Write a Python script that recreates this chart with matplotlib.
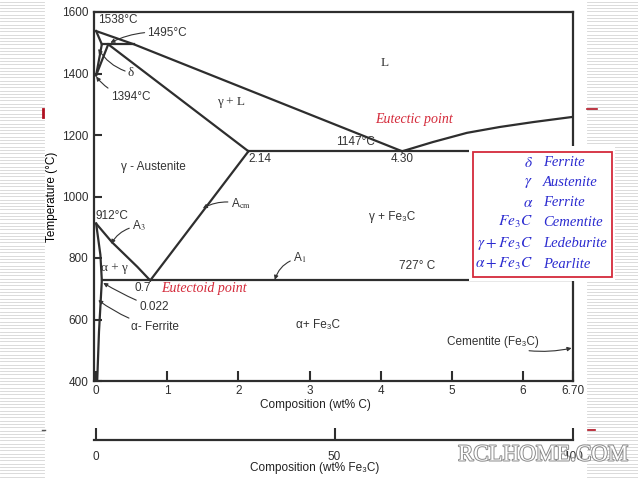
import matplotlib
matplotlib.use('Agg')
import matplotlib.pyplot as plt
import matplotlib.patheffects as pe
from matplotlib.patches import Rectangle

plt.rcParams['font.family'] = ['Liberation Sans Narrow', 'Liberation Sans', 'DejaVu Sans']
plt.rcParams['mathtext.fontset'] = 'stix'

# --- phase boundaries (wt% C, temperature in C) ---
liquidus_x = [0, 0.53, 4.30]
liquidus_T = [1538, 1495, 1147]
fe3c_liquidus_x = [4.30, 4.73, 5.21, 5.67, 6.14, 6.70]
fe3c_liquidus_T = [1147, 1177, 1207, 1226, 1242, 1259]
delta_solidus_x = [0, 0.08]
delta_solidus_T = [1538, 1495]
peritectic_x = [0.08, 0.53]
peritectic_T = [1495, 1495]
delta_lower_x = [0, 0.08]
delta_lower_T = [1394, 1495]
gamma_upper_x = [0, 0.17]
gamma_upper_T = [1394, 1495]
gamma_solidus_x = [0.17, 2.14]
gamma_solidus_T = [1495, 1147]
eutectic_x = [2.14, 6.70]
eutectic_T = [1147, 1147]
acm_x = [2.14, 0.76]
acm_T = [1147, 727]
a3_x = [0, 0.22, 0.38, 0.58, 0.76]
a3_T = [912, 852, 816, 771, 727]
alpha_x = [0, 0.06, 0.08, 0.04, 0.015]
alpha_T = [912, 810, 727, 560, 400]
a1_x = [0.08, 6.70]
a1_T = [727, 727]

x_ticks = [0, 1, 2, 3, 4, 5, 6, 6.70]
x_labels = ['0', '1', '2', '3', '4', '5', '6', '6.70']
y_ticks = [400, 600, 800, 1000, 1200, 1400, 1600]
fe3c_ticks = [0, 50, 100]

legend_symbols = [r'$\delta$', r'$\gamma$', r'$\alpha$', r'$Fe_3C$',
                  r'$\gamma + Fe_3C$', r'$\alpha + Fe_3C$']
legend_names = ['Ferrite', 'Austenite', 'Ferrite', 'Cementite',
                'Ledeburite', 'Pearlite']

W, H = 638, 479
LINE = '#2e2e2e'
RED = '#d42a3a'
BLUE = '#2b2bd0'


def fx(px):
    return px / W


def fy(py):
    return 1 - py / H


fig = plt.figure(figsize=(6.38, 4.79), dpi=100)

# slide background stripes
bg = fig.add_axes([0, 0, 1, 1], zorder=-5)
bg.set_xlim(0, W)
bg.set_ylim(H, 0)
bg.axis('off')
yy = 1.5
while yy < H:
    bg.plot([0, 44], [yy, yy], color='#d4d4d4', lw=0.6)
    bg.plot([587, W], [yy, yy], color='#d4d4d4', lw=0.6)
    yy += 3.3
bg.plot([43, 43], [109, 117], color='#b01020', lw=2)
bg.plot([587, 597], [109, 109], color='#b01020', lw=1.2)
bg.plot([42, 45], [430, 430], color='#555555', lw=1)
bg.plot([588, 595], [430, 430], color='#b01020', lw=1.2)

ax = fig.add_axes([fx(94), 1 - 381 / H, (573 - 94) / W, (381 - 12) / H])
ax.set_xlim(-0.03, 6.70)
ax.set_ylim(400, 1600)

for xs, ts in [(liquidus_x, liquidus_T), (fe3c_liquidus_x, fe3c_liquidus_T),
               (delta_solidus_x, delta_solidus_T), (peritectic_x, peritectic_T),
               (delta_lower_x, delta_lower_T), (gamma_upper_x, gamma_upper_T),
               (gamma_solidus_x, gamma_solidus_T), (eutectic_x, eutectic_T),
               (acm_x, acm_T), (a3_x, a3_T), (alpha_x, alpha_T), (a1_x, a1_T)]:
    ax.plot(xs, ts, color=LINE, lw=1.6, solid_joinstyle='round')

for s in ax.spines.values():
    s.set_color(LINE)
    s.set_linewidth(1.6)
ax.set_xticks(x_ticks)
ax.set_xticklabels(x_labels)
ax.set_yticks(y_ticks)
ax.tick_params(axis='x', direction='in', length=7.5, width=1.5, pad=3,
               labelsize=8.5, colors=LINE)
ax.tick_params(axis='y', direction='in', length=6, width=1.5, pad=4,
               labelsize=8.5, colors=LINE)
ax.set_ylabel('Temperature (°C)', fontsize=8.5, labelpad=3)
fig.text(fx(315), fy(405), 'Composition (wt% C)', fontsize=8.5, color='#222222',
         ha='center', va='center')

txt = dict(fontsize=8.5, color='#333333', ha='center', va='center')
serif = dict(fontsize=9.5, color='#333333', ha='center', va='center',
             family=['Liberation Serif', 'DejaVu Serif'])
arr = dict(arrowstyle='-|>', color='#333333', lw=0.8, mutation_scale=6,
           shrinkA=0, shrinkB=0)

ax.text(0.02, 1574, '1538°C', ha='left', va='center', fontsize=8.5, color='#333333')
ax.annotate('1495°C', xy=(0.20, 1500), xytext=(0.72, 1532), ha='left', va='center',
            fontsize=8.5, color='#333333',
            arrowprops=dict(arr, connectionstyle='arc3,rad=0.15'))
ax.annotate('δ', xy=(0.03, 1480), xytext=(0.49, 1402), **serif,
            arrowprops=dict(arr, connectionstyle='arc3,rad=-0.2'))
ax.annotate('1394°C', xy=(0.0, 1390), xytext=(0.48, 1324), **txt,
            arrowprops=dict(arr, connectionstyle='arc3,rad=-0.2'))
ax.text(1.90, 1307, 'γ + L', **serif)
ax.text(4.06, 1434, 'L', **serif)
ax.text(2.14, 1122, '2.14', ha='left', va='center', fontsize=8.5, color='#333333')
ax.text(0.80, 1096, 'γ - Austenite', **txt)
ax.text(3.64, 1178, '1147°C', **txt)
ax.text(4.30, 1122, '4.30', **txt)
ax.text(4.47, 1250, 'Eutectic point', fontsize=10, color=RED, style='italic',
        ha='center', va='center', family=['Liberation Serif', 'DejaVu Serif'])
ax.text(4.16, 933, 'γ + Fe₃C', **txt)
ax.annotate(r'A$_{\rm cm}$', xy=(1.50, 962), xytext=(2.03, 976), **txt,
            arrowprops=dict(arr, connectionstyle='arc3,rad=0.2'))
ax.text(0.22, 937, '912°C', **txt)
ax.annotate(r'A$_3$', xy=(0.21, 846), xytext=(0.60, 904), **txt,
            arrowprops=dict(arr, connectionstyle='arc3,rad=0.25'))
ax.text(0.26, 767, 'α + γ', **serif)
ax.text(0.65, 702, '0.7', **txt)
ax.text(1.52, 702, 'Eutectoid point', fontsize=10, color=RED, style='italic',
        ha='center', va='center', family=['Liberation Serif', 'DejaVu Serif'])
ax.annotate('0.022', xy=(0.10, 719), xytext=(0.81, 640), **txt,
            arrowprops=dict(arr, connectionstyle='arc3,rad=-0.05'))
ax.annotate('α- Ferrite', xy=(0.03, 663), xytext=(0.82, 576), **txt,
            arrowprops=dict(arr, connectionstyle='arc3,rad=-0.1'))
ax.annotate(r'A$_1$', xy=(2.51, 729), xytext=(2.86, 800), **txt,
            arrowprops=dict(arr, connectionstyle='arc3,rad=0.3'))
ax.text(4.51, 774, '727° C', **txt)
ax.text(3.12, 582, 'α+ Fe₃C', **txt)
ax.annotate('Cementite (Fe₃C)', xy=(6.68, 507), xytext=(5.57, 527), **txt,
            arrowprops=dict(arr, connectionstyle='arc3,rad=0.15'))

# second composition scale (wt% Fe3C)
ax2 = fig.add_axes([fx(94), 1 - 440 / H, (573 - 94) / W, 0.01])
ax2.set_xlim(-0.42, 100)
ax2.set_yticks([])
for side in ['left', 'right', 'top']:
    ax2.spines[side].set_visible(False)
ax2.spines['bottom'].set_color(LINE)
ax2.spines['bottom'].set_linewidth(1.6)
ax2.patch.set_alpha(0)
ax2.set_xticks(fe3c_ticks)
ax2.tick_params(axis='x', direction='in', length=9, width=1.5, pad=8,
                labelsize=8.5, colors=LINE)
fig.text(fx(315), fy(468), 'Composition (wt% Fe₃C)', fontsize=8.5,
         color='#222222', ha='center', va='center')

# legend box
fig.add_artist(Rectangle((fx(469), fy(281)), 146 / W, 135 / H,
                         transform=fig.transFigure, facecolor='white',
                         edgecolor='none', zorder=3))
fig.add_artist(Rectangle((fx(473), fy(277)), 139 / W, 125 / H,
                         transform=fig.transFigure, facecolor='white',
                         edgecolor=RED, lw=1.3, zorder=4))
leg_y = [163, 183, 203, 222, 243, 264]
for sym, name, py in zip(legend_symbols, legend_names, leg_y):
    fig.text(fx(533), fy(py), sym, fontsize=11, color=BLUE, ha='right',
             va='center', zorder=5)
    fig.text(fx(543), fy(py), name, fontsize=10.5, color=BLUE, ha='left',
             va='center', style='italic', zorder=5,
             family=['Liberation Serif', 'DejaVu Serif'])

# watermark
fig.text(fx(543), fy(455), 'RCLHOME.COM', fontsize=16.5, color='white',
         ha='center', va='center', family=['Liberation Serif', 'DejaVu Serif'],
         zorder=6, path_effects=[pe.withStroke(linewidth=1.4, foreground='#8a8a8a')])

fig.savefig('out.png', dpi=100)
